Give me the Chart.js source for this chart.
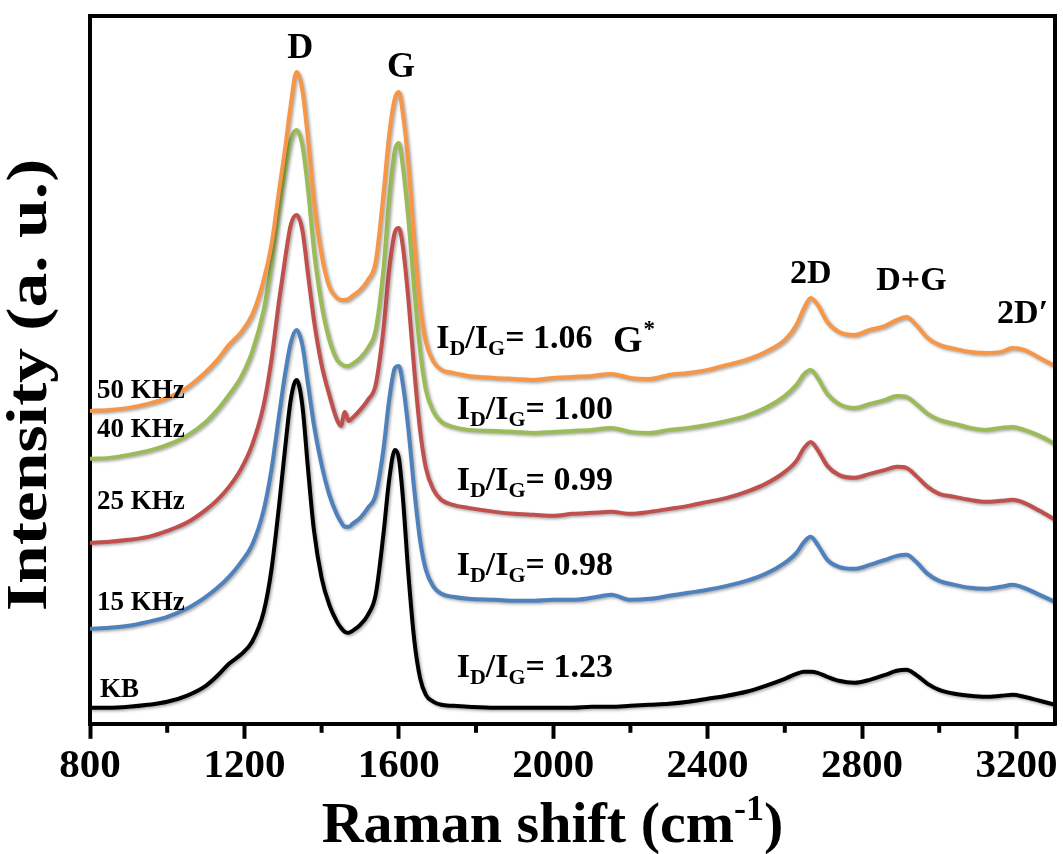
<!DOCTYPE html>
<html>
<head>
<meta charset="utf-8">
<script src="https://cdn.jsdelivr.net/npm/chart.js@4.4.1/dist/chart.umd.min.js"></script>
<style>
  html, body { margin: 0; padding: 0; background: #fff; }
  #wrap { width: 1063px; height: 854px; position: relative; }
</style>
</head>
<body>
<div id="wrap"><canvas id="ramanChart"></canvas></div>
<script>
// Raman shift (cm-1), shared by all spectra
const waves = [800,850,900,950,1000,1050,1100,1130,1160,1190,1220,1250,1270,1290,1305,1320,1335,1350,1365,1380,
  1400,1420,1440,1450,1460,1470,1480,1500,1520,1540,1560,1575,1590,1600,1610,1625,1640,1655,1670,1690,
  1710,1740,1780,1850,1900,1950,2000,2050,2100,2150,2200,2250,2300,2350,2400,2450,2500,2550,2600,2630,
  2650,2667,2685,2710,2740,2780,2820,2860,2890,2915,2940,2970,3000,3040,3080,3120,3160,3190,3220,3260,3300];

// intensities (a.u., stacked offsets as in the figure)
const khz50 = [313,314,316,320,326,336,352,364,379,391,409,444,479,534,574,619,652,634,584,524,
  469,437,426,424,424,425,428,434,444,462,529,589,626,632,612,559,484,419,382,362,
  354,351,348,346,345,344,346,347,348,350,346,345,349,351,354,359,364,372,384,399,
  416,426,419,402,392,389,394,398,404,407,399,386,379,375,372,371,372,376,374,366,358];
const khz40 = [265,266,269,273,279,288,302,314,329,346,372,414,459,514,552,584,594,579,534,474,
  419,384,364,360,358,358,360,366,376,394,454,524,574,581,559,504,434,374,334,312,
  302,297,294,293,292,291,292,293,294,296,292,291,294,296,299,303,308,316,328,339,
  350,354,346,330,320,316,320,324,328,327,320,310,304,300,296,294,296,297,294,288,280];
const khz25 = [181,182,184,187,193,201,214,224,237,254,279,319,364,424,464,499,509,494,449,404,
  359,329,304,298,312,303,306,314,324,339,394,454,492,496,479,424,354,294,256,234,
  224,219,216,212,210,209,208,210,211,212,210,212,215,218,222,226,232,240,252,263,
  276,282,274,258,249,246,250,254,257,256,248,237,230,227,224,222,223,224,221,213,204];
const khz15 = [95,96,98,102,107,115,127,136,147,161,179,214,254,309,349,381,394,379,339,299,
  259,229,209,202,197,197,200,206,216,229,274,324,356,358,341,294,234,184,154,137,
  130,127,125,124,123,123,124,124,126,129,124,125,128,131,134,138,143,150,161,171,
  182,187,179,164,157,155,159,164,168,169,162,150,143,139,136,135,137,139,136,129,122];
const kb = [16,16,17,19,22,28,38,48,60,69,82,112,154,219,274,324,344,319,254,194,
  146,119,102,96,92,91,93,99,109,129,189,244,274,266,229,149,84,46,29,22,
  19,18,17,16,16,16,16,16,17,17,18,19,20,22,25,28,32,38,45,50,
  52,52,51,47,43,41,44,49,53,54,49,40,34,30,28,27,28,29,27,23,19];

const sampleNames = ['50 KHz', '40 KHz', '25 KHz', '15 KHz', 'KB'];
const ratioValues = ['1.06', '1.00', '0.99', '0.98', '1.23'];
const lineColors = ['#F79646', '#9BBB59', '#C0504D', '#4F81BD', '#000000'];

const serif = '"Liberation Serif", "Times New Roman", serif';

function pts(arr) {
  return waves.map((w, i) => ({ x: w, y: arr[i] }));
}

// draws I_D/I_G= value with real subscripts
function drawRatio(ctx, x, y, val) {
  const big = 'bold 34px ' + serif, small = 'bold 22px ' + serif;
  const parts = [['I', big, 0], ['D', small, 7], ['/I', big, 0], ['G', small, 7], ['= ' + val, big, 0]];
  parts.forEach(p => {
    ctx.font = p[1];
    ctx.fillText(p[0], x, y + p[2]);
    x += ctx.measureText(p[0]).width;
  });
}

const extras = {
  id: 'extras',
  beforeDatasetDraw(chart) {
    const c = chart.ctx;
    c.save();
    c.shadowColor = 'rgba(0,0,0,0.35)';
    c.shadowBlur = 3;
    c.shadowOffsetX = 1.5;
    c.shadowOffsetY = 1.5;
  },
  afterDatasetDraw(chart) {
    chart.ctx.restore();
  },
  afterDraw(chart) {
    const ctx = chart.ctx, xs = chart.scales.x, ys = chart.scales.y, a = chart.chartArea;
    ctx.save();
    // top and right frame
    ctx.strokeStyle = '#000';
    ctx.lineWidth = 4;
    ctx.beginPath();
    ctx.moveTo(a.left - 2, a.top);
    ctx.lineTo(a.right, a.top);
    ctx.lineTo(a.right, a.bottom + 2);
    ctx.stroke();
    // minor ticks
    for (let v = 1000; v < 3300; v += 400) {
      const px = xs.getPixelForValue(v);
      ctx.beginPath();
      ctx.moveTo(px, a.bottom);
      ctx.lineTo(px, a.bottom + 9);
      ctx.stroke();
    }

    ctx.fillStyle = '#000';
    ctx.textBaseline = 'alphabetic';

    // peak names
    ctx.textAlign = 'center';
    ctx.font = 'bold 36px ' + serif;
    ctx.fillText('D', xs.getPixelForValue(1345), ys.getPixelForValue(666));
    ctx.fillText('G', xs.getPixelForValue(1606), ys.getPixelForValue(647));
    ctx.font = 'bold 34px ' + serif;
    ctx.fillText('2D', xs.getPixelForValue(2667), ys.getPixelForValue(441));
    ctx.fillText('D+G', xs.getPixelForValue(2928), ys.getPixelForValue(434));
    ctx.textAlign = 'left';
    ctx.fillText('2D\u2032', xs.getPixelForValue(3150), ys.getPixelForValue(401));
    // G*
    let gx = xs.getPixelForValue(2155), gy = ys.getPixelForValue(372);
    ctx.font = 'bold 38px ' + serif;
    ctx.fillText('G', gx, gy);
    gx += ctx.measureText('G').width + 1;
    ctx.font = 'bold 23px ' + serif;
    ctx.fillText('*', gx, gy - 16);

    // sample names on the left
    const nameY = [326, 287, 215, 114, 27];
    ctx.font = 'bold 27px ' + serif;
    sampleNames.forEach((n, i) => {
      ctx.fillText(n, xs.getPixelForValue(818) + (i === 4 ? 3 : 0), ys.getPixelForValue(nameY[i]));
    });

    // I_D/I_G ratios
    const ratioY = [376, 305, 234, 149, 47];
    ratioValues.forEach((r, i) => {
      drawRatio(ctx, xs.getPixelForValue(i === 0 ? 1697 : 1750), ys.getPixelForValue(ratioY[i]), r);
    });

    // y axis title, stretched along its length like the original
    ctx.save();
    ctx.translate(31, (a.top + a.bottom) / 2 + 15);
    ctx.rotate(-Math.PI / 2);
    ctx.scale(1.2, 1);
    ctx.textAlign = 'center';
    ctx.textBaseline = 'middle';
    ctx.font = 'bold 58px ' + serif;
    ctx.fillText('Intensity (a. u.)', 0, 0);
    ctx.restore();

    // x axis title with superscript
    const big = 'bold 58px ' + serif, sup = 'bold 36px ' + serif;
    const pieces = [['Raman shift (cm', big, 0], ['-1', sup, -22], [')', big, 0]];
    let total = 0;
    pieces.forEach(p => { ctx.font = p[1]; total += ctx.measureText(p[0]).width; });
    let tx = (a.left + a.right) / 2 - 20 - total / 2;
    pieces.forEach(p => {
      ctx.font = p[1];
      ctx.fillText(p[0], tx, 842 + p[2]);
      tx += ctx.measureText(p[0]).width;
    });
    ctx.restore();
  }
};

const series = [khz50, khz40, khz25, khz15, kb];

const config = {
  type: 'line',
  data: {
    datasets: series.map((s, i) => ({
      label: sampleNames[i],
      data: pts(s),
      borderColor: lineColors[i],
      borderWidth: 4,
      pointRadius: 0,
      fill: false,
      cubicInterpolationMode: 'monotone'
    }))
  },
  options: {
    responsive: true,
    maintainAspectRatio: false,
    animation: false,
    layout: { padding: { left: 90, right: 8, top: 16, bottom: 60 } },
    plugins: {
      legend: { display: false },
      tooltip: { enabled: false }
    },
    scales: {
      x: {
        type: 'linear',
        min: 800,
        max: 3300,
        border: { display: true, color: '#000', width: 4 },
        grid: {
          display: true,
          drawOnChartArea: false,
          tickLength: 15,
          tickWidth: 4,
          tickColor: c => (c.tick && c.tick.value % 400 === 0) ? '#000' : 'rgba(0,0,0,0)'
        },
        ticks: {
          stepSize: 200,
          includeBounds: false,
          autoSkip: false,
          maxRotation: 0,
          padding: 3,
          color: '#000',
          font: { family: serif, size: 41, weight: 'bold' },
          callback: v => (v % 400 === 0 ? String(v) : '')
        }
      },
      y: {
        min: 0,
        max: 708,
        border: { display: true, color: '#000', width: 4 },
        grid: { display: false, drawTicks: false },
        ticks: { display: false }
      }
    }
  },
  plugins: [extras]
};

const myChart = new Chart(document.getElementById('ramanChart'), config);
</script>
</body>
</html>
